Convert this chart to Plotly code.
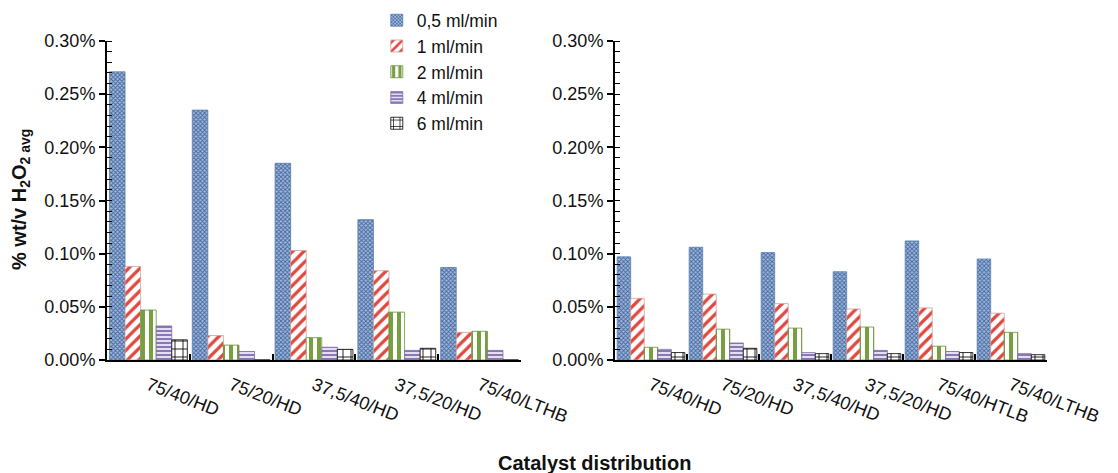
import plotly.graph_objects as go
from plotly.subplots import make_subplots

# Category labels for the two panels
cats_left = ["75/40/HD", "75/20/HD", "37,5/40/HD", "37,5/20/HD", "75/40/LTHB"]
cats_right = ["75/40/HD", "75/20/HD", "37,5/40/HD", "37,5/20/HD", "75/40/HTLB", "75/40/LTHB"]

series_names = ["0,5 ml/min", "1 ml/min", "2 ml/min", "4 ml/min", "6 ml/min"]

# % wt/v H2O2 (as fractions, formatted as percent on the axis)
left_05 = [0.00271, 0.00235, 0.00185, 0.00132, 0.00087]
left_1 = [0.00088, 0.00023, 0.00103, 0.00084, 0.00026]
left_2 = [0.00047, 0.00014, 0.00021, 0.00045, 0.00027]
left_4 = [0.00032, 0.00008, 0.00012, 0.00009, 0.00009]
left_6 = [0.00019, 0.0, 0.00010, 0.00011, 0.0]

right_05 = [0.00097, 0.00106, 0.00101, 0.00083, 0.00112, 0.00095]
right_1 = [0.00058, 0.00062, 0.00053, 0.00048, 0.00049, 0.00044]
right_2 = [0.00012, 0.00029, 0.00030, 0.00031, 0.00013, 0.00026]
right_4 = [0.00010, 0.00016, 0.00007, 0.00009, 0.00008, 0.00006]
right_6 = [0.00007, 0.00011, 0.00006, 0.00006, 0.00007, 0.00005]

y_ticks = [0, 0.0005, 0.001, 0.0015, 0.002, 0.0025, 0.003]

styles = [
    dict(shape="x", fgcolor="#41669e", bgcolor="#a3badc", size=3, solidity=0.5, line="#5a7db0"),
    dict(shape="/", fgcolor="#e0483f", bgcolor="#ffffff", size=8, solidity=0.4, line="#c9a3a0"),
    dict(shape="|", fgcolor="#76a040", bgcolor="#ffffff", size=8, solidity=0.5, line="#6a8f3a"),
    dict(shape="-", fgcolor="#8a78b4", bgcolor="#e4def0", size=4, solidity=0.5, line="#7d6ca6"),
    dict(shape="+", fgcolor="#000000", bgcolor="#ffffff", size=8, solidity=0.2, line="#000000"),
]

fig = make_subplots(rows=1, cols=2)

left_series = [left_05, left_1, left_2, left_4, left_6]
right_series = [right_05, right_1, right_2, right_4, right_6]

for i, (name, st) in enumerate(zip(series_names, styles)):
    marker = dict(
        color=st["bgcolor"],
        line=dict(color=st["line"], width=0.8),
        pattern=dict(shape=st["shape"], fgcolor=st["fgcolor"], bgcolor=st["bgcolor"],
                     size=st["size"], solidity=st["solidity"], fillmode="replace"),
    )
    fig.add_trace(go.Bar(x=cats_left, y=left_series[i], name=name, marker=marker,
                         legendgroup=name, showlegend=True), row=1, col=1)
    fig.add_trace(go.Bar(x=cats_right, y=right_series[i], name=name, marker=marker,
                         legendgroup=name, showlegend=False), row=1, col=2)

font_family = "Liberation Sans, Arial, sans-serif"

yaxis_common = dict(
    range=[0, 0.003], tickvals=y_ticks, tickformat=".2%",
    showgrid=False, zeroline=False, showline=True, linecolor="black", linewidth=2,
    ticks="outside", ticklen=6, tickcolor="black", tickwidth=1.5,
    minor=dict(ticks="inside", dtick=0.0001, ticklen=5, tickcolor="black", tickwidth=1),
    tickfont=dict(size=18, color="#111111"), automargin=False,
)
xaxis_common = dict(
    showgrid=False, showline=True, linecolor="black", linewidth=2,
    ticks="inside", tickson="boundaries", ticklen=6, tickcolor="black", tickwidth=1.5,
    tickangle=21, ticklabelstandoff=6,
    tickfont=dict(size=18, color="#111111"), automargin=False,
)

y_dom = [1 - 360 / 473, 1 - 41 / 473]
fig.update_layout(
    width=1118, height=473,
    margin=dict(l=0, r=0, t=0, b=0),
    paper_bgcolor="white", plot_bgcolor="white",
    font=dict(family=font_family, size=18, color="#111111"),
    barmode="group", bargap=0.06, bargroupgap=0.0,
    xaxis=dict(domain=[107 / 1118, 521 / 1118], **xaxis_common),
    xaxis2=dict(domain=[615 / 1118, 1047 / 1118], **xaxis_common),
    yaxis=dict(domain=y_dom, **yaxis_common),
    yaxis2=dict(domain=y_dom, **yaxis_common),
    legend=dict(x=0.337, y=0.995, xanchor="left", yanchor="top",
                font=dict(size=17.5), bgcolor="rgba(0,0,0,0)", tracegroupgap=0,
                itemwidth=30),
    showlegend=True,
)

fig.add_annotation(
    text="<b>% wt/v H<sub>2</sub>O<sub>2 avg</sub></b>", textangle=-90,
    xref="paper", yref="paper", x=20 / 1118, y=1 - 200 / 473,
    xanchor="center", yanchor="middle", showarrow=False, font=dict(size=20),
)
fig.add_annotation(
    text="<b>Catalyst distribution</b>",
    xref="paper", yref="paper", x=594 / 1118, y=1 - 463 / 473,
    xanchor="center", yanchor="middle", showarrow=False, font=dict(size=20),
)

fig.write_html("out.html")
